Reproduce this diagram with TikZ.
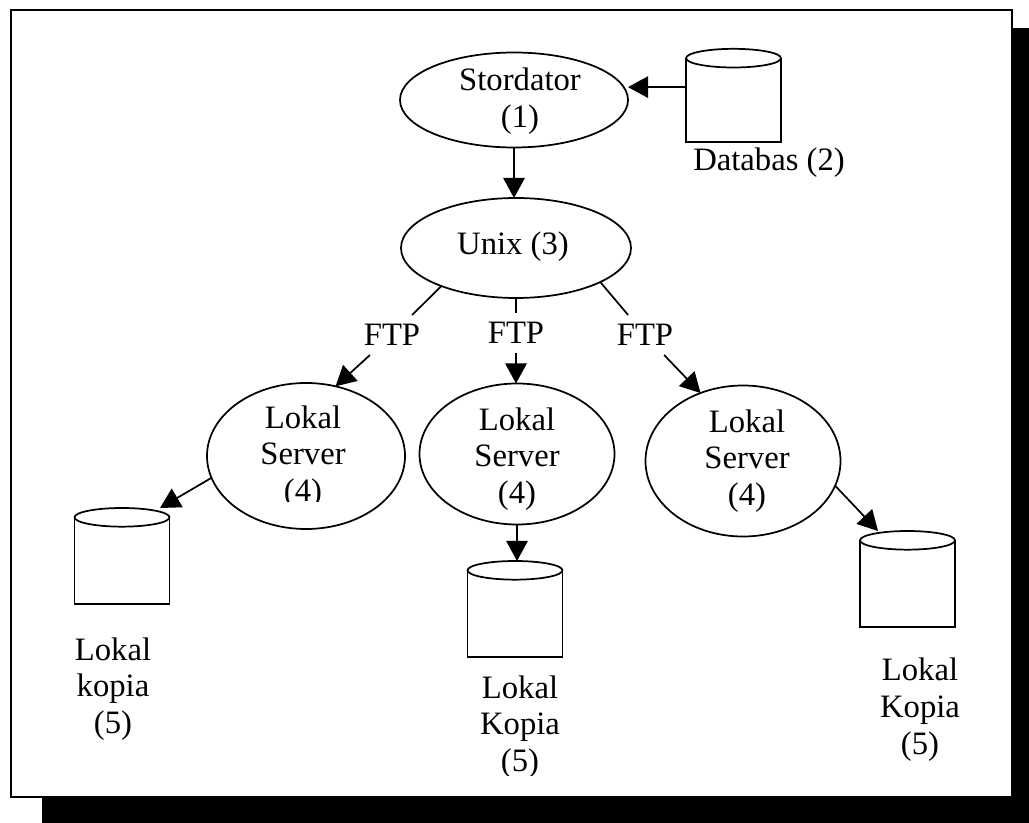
\documentclass[tikz,border=0pt]{standalone}
\usepackage{fontspec}
\setmainfont{Liberation Serif}
\usetikzlibrary{shapes.geometric,arrows.meta,calc}

% storage drum: straight sides, flat bottom, elliptic lid
\newcommand\drawdrum[1]{%
  \draw[ln] ([yshift=-7pt]#1.north west) -- (#1.south west) -- (#1.south east) -- ([yshift=-7pt]#1.north east);
  \draw[ln,fill=white] ([yshift=-7pt]#1.north) ellipse [x radius=35.6pt, y radius=7pt];}

\begin{document}
\begin{tikzpicture}[x=0.75pt,y=-0.75pt,
  ln/.style={line width=1.3pt},
  arr/.style={ln,-{Triangle[length=15pt,width=16pt]}},
  ell/.style={draw,ln,ellipse,inner sep=0pt,outer sep=0pt},
  txt/.style={align=center,inner sep=0pt,font=\fontsize{24.5}{27.5}\selectfont},
  ftp/.style={txt,inner xsep=6pt,inner ysep=7pt,outer sep=0pt},
  store/.style={inner sep=0pt,outer sep=0pt,minimum width=71.25pt}
]
\useasboundingbox (0,0) rectangle (1029,823);

% shadowed frame
\fill[black] (42,28) rectangle (1029,823);
\draw[fill=white,line width=1.6pt] (11,10) rectangle (1012,797);

% processes
\node[ell,minimum width=171pt,minimum height=71.25pt] (stor) at (514,100) {};
\node[txt] (stor-t) at (520,101) {Stordator\\(1)};

\node[ell,minimum width=172.5pt,minimum height=75pt] (unix) at (516,248) {};
\node[txt] (unix-t) at (513,247) {Unix (3)};

\node[ell,minimum width=148.5pt,minimum height=109.5pt] (ls1) at (306,456) {};
\begin{scope}
  \clip (200,380) rectangle (410,502);
  \node[txt] (ls1-t) at (303,457) {Lokal\\Server\\(4)};
\end{scope}

\node[ell,minimum width=146.25pt,minimum height=105.75pt] (ls2) at (517,454) {};
\node[txt] (ls2-t) at (517,459) {Lokal\\Server\\(4)};

\node[ell,minimum width=146.25pt,minimum height=113.25pt] (ls3) at (743,461) {};
\node[txt] (ls3-t) at (747,461) {Lokal\\Server\\(4)};

% storage
\node[store,minimum height=70pt] (db) at (733.5,95.5) {};
\drawdrum{db}
\node[txt] (db-t) at (769,163) {Databas (2)};

\node[store,minimum height=72pt] (c1) at (122,556) {};
\drawdrum{c1}
\node[txt] (c1-t) at (113,689) {Lokal\\kopia\\(5)};

\node[store,minimum height=72pt] (c2) at (515,609) {};
\drawdrum{c2}
\begin{scope}
  \clip (440,650) rectangle (600,775);
  \node[txt] (c2-t) at (520,727) {Lokal\\Kopia\\(5)};
\end{scope}

\node[store,minimum height=72pt] (c3) at (907.5,579) {};
\drawdrum{c3}
\node[txt] (c3-t) at (920,709.5) {Lokal\\Kopia\\(5)};

% transfer labels
\node[ftp] (ftp1) at (392,335) {FTP};
\node[ftp] (ftp2) at (516,333) {FTP};
\node[ftp] (ftp3) at (645,335) {FTP};

% connectors
\draw[arr] ($(db.north west)!0.41!(db.south west)$) coordinate (dbin) -- (dbin -| stor.east);
\draw[arr] (stor.south) -- (stor.south |- unix.north);
\draw[ln] (unix.207) -- (ftp1);
\draw[arr] (ftp1) -- (ls1.67);
\draw[ln] (unix.south) -- (ftp2);
\draw[arr] (ftp2) -- (ftp2 |- ls2.north);
\draw[ln] (unix.338) -- (ftp3);
\draw[arr] (ftp3) -- (ls3.122);
\draw[arr] (ls1.193) -- ($(c1.north)!0.8!(c1.north east)$);
\draw[arr] (ls2.south) -- (ls2.south |- c2.north);
\draw[arr] (ls3.345) -- ($(c3.north west)!0.19!(c3.north east)$);
\end{tikzpicture}
\end{document}
